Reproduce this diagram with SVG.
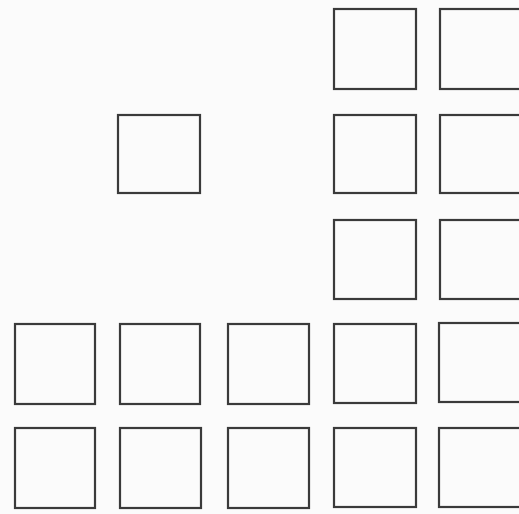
<svg xmlns="http://www.w3.org/2000/svg" width="519" height="514" viewBox="0 0 519 514">
<style>
.sq{fill:none;stroke:#3a3a3a;stroke-width:2.2}
</style>
<rect width="519" height="514" fill="#fbfbfb"/>
<g id="r1c4"><rect class="sq" x="334" y="9" width="82" height="80"/></g>
<g id="r1c5"><rect class="sq" x="440" y="9" width="82" height="80"/></g>
<g id="r2c2"><rect class="sq" x="118" y="115" width="82" height="78"/></g>
<g id="r2c4"><rect class="sq" x="334" y="115" width="82" height="78"/></g>
<g id="r2c5"><rect class="sq" x="440" y="115" width="82" height="78"/></g>
<g id="r3c4"><rect class="sq" x="334" y="220" width="82" height="79"/></g>
<g id="r3c5"><rect class="sq" x="440" y="220" width="82" height="79"/></g>
<g id="r4c1"><rect class="sq" x="15" y="324" width="80" height="80"/></g>
<g id="r4c2"><rect class="sq" x="120" y="324" width="80" height="80"/></g>
<g id="r4c3"><rect class="sq" x="228" y="324" width="81" height="80"/></g>
<g id="r4c4"><rect class="sq" x="334" y="324" width="82" height="79"/></g>
<g id="r4c5"><rect class="sq" x="439" y="323" width="82" height="79"/></g>
<g id="r5c1"><rect class="sq" x="15" y="428" width="80" height="80"/></g>
<g id="r5c2"><rect class="sq" x="120" y="428" width="81" height="80"/></g>
<g id="r5c3"><rect class="sq" x="228" y="428" width="81" height="80"/></g>
<g id="r5c4"><rect class="sq" x="334" y="428" width="82" height="79"/></g>
<g id="r5c5"><rect class="sq" x="439" y="428" width="82" height="79"/></g>
<g id="connectors"></g>
</svg>
